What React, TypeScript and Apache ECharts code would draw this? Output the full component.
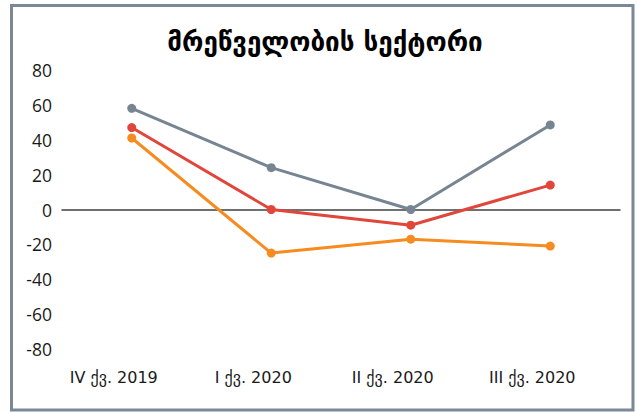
import React, { useEffect, useRef } from "react";
import * as echarts from "echarts";

const categories = ["IV ქვ. 2019", "I ქვ. 2020", "II ქვ. 2020", "III ქვ. 2020"];
const grayValues = [58, 24, 0, 48.5];
const redValues = [47, 0, -9, 14];
const orangeValues = [41, -25, -17, -21];
const yTicks = { min: -80, max: 80, interval: 20 };
const titleText = "მრეწველობის სექტორი";

export default function App() {
  const ref = useRef<HTMLDivElement>(null);
  useEffect(() => {
    const chart = echarts.init(ref.current!, null, { renderer: "svg" });
    const mk = (data: number[], color: string, z: number) => ({
      type: "line",
      data,
      z,
      symbol: "circle",
      symbolSize: 9,
      lineStyle: { color, width: 3 },
      itemStyle: { color },
    });
    chart.setOption({
      animation: false,
      backgroundColor: "#ffffff",
      title: {
        text: titleText,
        left: 320,
        textAlign: "center",
        top: 24,
        textStyle: { fontFamily: "DejaVu Sans", fontWeight: "bold", fontSize: 26, color: "#000" },
      },
      graphic: [
        {
          type: "rect",
          shape: { x: 11.5, y: 5.5, width: 621.5, height: 404.5 },
          style: { fill: "none", stroke: "#7b8896", lineWidth: 3 },
          silent: true,
        },
      ],
      grid: { left: 62, right: 17, top: 70, bottom: 63 },
      xAxis: {
        type: "category",
        data: categories,
        boundaryGap: true,
        axisLine: { onZero: true, lineStyle: { color: "#404040", width: 1.5 } },
        axisTick: { show: false },
        axisLabel: {
          fontFamily: "DejaVu Sans",
          fontSize: 16,
          color: "#1a1a1a",
          margin: 20,
          padding: [0, 36, 0, 0],
          interval: 0,
        },
        position: "bottom",
      },
      yAxis: {
        type: "value",
        min: yTicks.min,
        max: yTicks.max,
        interval: yTicks.interval,
        axisLine: { show: false },
        axisTick: { show: false },
        splitLine: { show: false },
        axisLabel: {
          fontFamily: "Open Sans",
          fontSize: 17.5,
          color: "#1a1a1a",
          margin: 10,
          padding: [6, 0, 0, 0],
        },
      },
      series: [mk(grayValues, "#778592", 3), mk(redValues, "#e0463a", 4), mk(orangeValues, "#f68c1f", 5)],
    });
    return () => chart.dispose();
  }, []);
  return (
    <div
      ref={ref}
      style={{ position: "fixed", left: 0, top: 0, width: 637, height: 412 }}
    />
  );
}
